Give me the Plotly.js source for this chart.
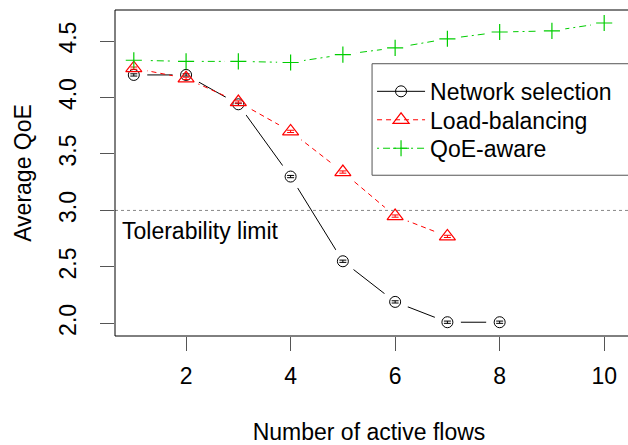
<!DOCTYPE html>
<html>
<head>
<meta charset="utf-8">
<script src="https://cdn.plot.ly/plotly-3.0.1.min.js"></script>
<style>
html, body { margin: 0; padding: 0; overflow: hidden; background: #fff; }
#chart { width: 628px; height: 445px; }
</style>
</head>
<body>
<div id="chart"></div>
<script>
// ---- data ----
const flowsNet = [1, 2, 3, 4, 5, 6, 7, 8];
const qoeNet   = [4.20, 4.20, 3.94, 3.30, 2.55, 2.19, 2.01, 2.01];
const ciNet    = [0.01, 0.01, 0.01, 0.01, 0.01, 0.01, 0.01, 0.01];

const flowsLb  = [1, 2, 3, 4, 5, 6, 7];
const qoeLb    = [4.26, 4.17, 3.96, 3.70, 3.34, 2.95, 2.77];
const ciLb     = [0.01, 0.01, 0.01, 0.01, 0.01, 0.01, 0.01];

const flowsQoe = [1, 2, 3, 4, 5, 6, 7, 8, 9, 10];
const qoeQoe   = [4.33, 4.32, 4.32, 4.31, 4.38, 4.44, 4.52, 4.58, 4.59, 4.66];

const seriesNames = ['Network selection', 'Load-balancing', 'QoE-aware'];
const toleranceLevel = 3.0;
const toleranceLabel = 'Tolerability limit';
const xTicks = [2, 4, 6, 8, 10];
const yTicks = [2.0, 2.5, 3.0, 3.5, 4.0, 4.5];
const xTitle = 'Number of active flows';
const yTitle = 'Average QoE';

// ---- styles ----
const FONT = 'Liberation Sans, Arial, Helvetica, sans-serif';
const FS = 23;
const BLACK = '#000000', RED = '#FF0000', GREEN = '#00CD00';
const GAP = 27;

function lineTrace(x, y, name, color, dash, symbol, msize, mwidth, legendId) {
  return {
    x: x, y: y, name: name, type: 'scatter', mode: 'lines+markers', legend: legendId,
    line: {color: color, width: 1, dash: dash},
    marker: {symbol: symbol, size: msize, color: color, line: {color: color, width: mwidth}},
    hoverinfo: 'skip'
  };
}
function gapTrace(x, y) {
  return {
    x: x, y: y, type: 'scatter', mode: 'markers', showlegend: false,
    marker: {symbol: 'circle', size: GAP, color: '#ffffff', line: {width: 0}},
    hoverinfo: 'skip'
  };
}
function markTrace(x, y, color, symbol, msize, mwidth, ci) {
  const t = {
    x: x, y: y, type: 'scatter', mode: 'markers', showlegend: false,
    marker: {symbol: symbol, size: msize, color: color, line: {color: color, width: mwidth}},
    hoverinfo: 'skip'
  };
  if (ci) t.error_y = {type: 'data', array: ci, visible: true, color: color, thickness: 1, width: 3.5};
  return t;
}

const dashRed = '5px,4px';
const dashGreen = '2px,4px,7px,4px';

const traces = [
  lineTrace(flowsNet, qoeNet, seriesNames[0], BLACK, 'solid', 'circle-open', 11, 1, 'legend'),
  gapTrace(flowsNet, qoeNet),
  lineTrace(flowsLb, qoeLb, seriesNames[1], RED, dashRed, 'triangle-up-open', 14, 1.2, 'legend2'),
  gapTrace(flowsLb, qoeLb),
  lineTrace(flowsQoe, qoeQoe, seriesNames[2], GREEN, dashGreen, 'cross-thin-open', 11.5, 1.2, 'legend3'),
  gapTrace(flowsQoe, qoeQoe),
  markTrace(flowsNet, qoeNet, BLACK, 'circle-open', 11, 1, ciNet),
  markTrace(flowsLb, qoeLb, RED, 'triangle-up-open', 14, 1.2, ciLb),
  markTrace(flowsQoe, qoeQoe, GREEN, 'cross-thin-open', 11.5, 1.2, null)
];

const LEG_X = 0.506;
function legendAt(yPaper) {
  return {
    x: LEG_X, y: yPaper, xanchor: 'left', yanchor: 'middle',
    bgcolor: 'rgba(0,0,0,0)', borderwidth: 0,
    font: {family: FONT, size: FS, color: '#000'},
    itemwidth: 48
  };
}

const layout = {
  width: 628, height: 445,
  margin: {l: 115, r: 4.5, t: 9.5, b: 109, pad: 0},
  paper_bgcolor: '#ffffff', plot_bgcolor: '#ffffff',
  font: {family: FONT, size: FS, color: '#000'},
  showlegend: true,
  legend: legendAt(0.7504),
  legend2: legendAt(0.6631),
  legend3: legendAt(0.5758),
  xaxis: {
    range: [0.64, 10.36], tickmode: 'array', tickvals: xTicks, ticktext: xTicks.map(String),
    ticks: 'outside', ticklen: 14, tickwidth: 1, tickcolor: '#555',
    ticklabelstandoff: 5,
    showline: false, mirror: false,
    showgrid: false, zeroline: false,
    tickfont: {family: FONT, size: FS, color: '#000'},
    title: {text: xTitle, font: {family: FONT, size: FS, color: '#000'}, standoff: 42},
    automargin: false, fixedrange: true
  },
  yaxis: {
    range: [1.888, 4.775], tickmode: 'array', tickvals: yTicks, ticktext: yTicks.map(v => v.toFixed(1)),
    tickangle: -90,
    ticks: 'outside', ticklen: 14, tickwidth: 1, tickcolor: '#555',
    ticklabelstandoff: 15,
    showline: false, mirror: false,
    showgrid: false, zeroline: false,
    tickfont: {family: FONT, size: FS, color: '#000'},
    title: {text: yTitle, font: {family: FONT, size: FS, color: '#000'}, standoff: 16},
    automargin: false, fixedrange: true
  },
  shapes: [{
    type: 'line', xref: 'paper', x0: 0, x1: 1.2, yref: 'y', y0: toleranceLevel, y1: toleranceLevel,
    line: {color: '#888', width: 1, dash: 'dot'}, layer: 'above'
  }, {
    type: 'rect', xref: 'paper', yref: 'paper', x0: 0, x1: 1.2, y0: 0, y1: 1,
    line: {color: '#000', width: 1}, layer: 'above'
  }, {
    type: 'rect', xref: 'paper', yref: 'paper', x0: LEG_X, x1: 1.2, y0: 0.4931, y1: 0.8352,
    fillcolor: '#ffffff', line: {color: '#555', width: 1}, layer: 'above'
  }],
  annotations: [{
    xref: 'x', yref: 'y', x: 0.73, y: 2.82, xanchor: 'left', yanchor: 'middle',
    text: toleranceLabel, showarrow: false, font: {family: FONT, size: FS, color: '#000'}
  }]
};

Plotly.newPlot('chart', traces, layout, {displayModeBar: false, staticPlot: true});
</script>
</body>
</html>
